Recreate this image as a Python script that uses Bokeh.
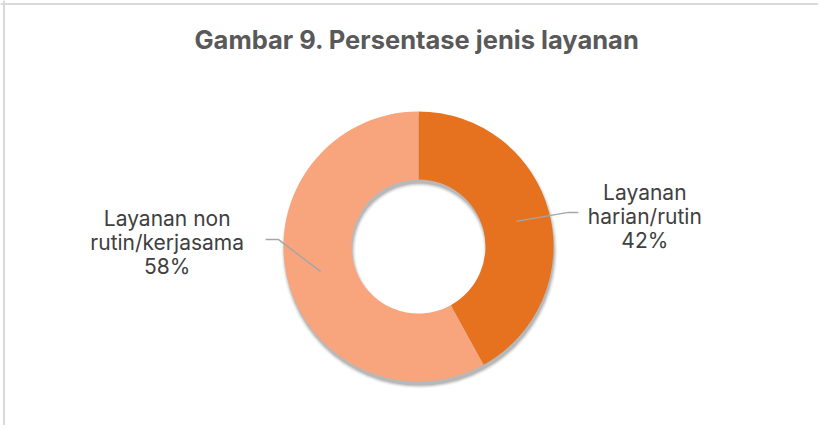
import math
from bokeh.plotting import figure
from bokeh.models import ColumnDataSource, Range1d, Label, Span
from bokeh.core.properties import value
from bokeh.embed import file_html
from bokeh.resources import INLINE

# ---- data ----
categories = ["Layanan harian/rutin", "Layanan non rutin/kerjasama"]
label_texts = ["Layanan\nharian/rutin", "Layanan non\nrutin/kerjasama"]
percentages = [42, 58]
colors = ["#E6721F", "#F8A57E"]
title_text = "Gambar 9. Persentase jenis layanan"

# ---- layout ----
W, H = 818, 425
cx, cy = 418, 179
r_out, r_in = 135, 67

p = figure(width=W, height=H, output_backend="svg", toolbar_location=None,
           x_range=Range1d(0, W), y_range=Range1d(0, H), min_border=0)
p.axis.visible = False
p.xgrid.visible = False
p.ygrid.visible = False
p.outline_line_color = None
p.background_fill_color = "white"
p.border_fill_color = "white"

# chart-area border (left and top edges)
p.add_layout(Span(location=3.5, dimension="height", line_color="#D9D9D9", line_width=2))
p.add_layout(Span(location=H - 3.5, dimension="width", line_color="#D9D9D9", line_width=2))

# title
p.add_layout(Label(x=416.5, y=H - 38.5, x_units="data", y_units="data",
                   text=title_text, text_align="center", text_baseline="middle",
                   text_font="Inter", text_font_size="25.5px", text_font_style="bold",
                   text_color="#595959"))

# angles
total = sum(percentages)
starts, ends, mids = [], [], []
a = math.pi / 2
for v in percentages:
    span = 2 * math.pi * v / total
    starts.append(a)
    ends.append(a - span)
    mids.append(a - span / 2)
    a -= span

# shadow (soft, offset downward)
for k, al in [(3, 0.06), (2, 0.09), (1, 0.14), (0, 0.2)]:
    p.annulus(x=cx + 1, y=cy - 4, inner_radius=r_in - k, outer_radius=r_out + k,
              inner_radius_units="screen", outer_radius_units="screen",
              fill_color="#555555", fill_alpha=al, line_color=None)

src = ColumnDataSource(dict(cat=categories, pct=percentages, start=starts,
                            end=ends, color=colors))
p.annular_wedge(x=cx, y=cy, inner_radius=r_in, outer_radius=r_out,
                inner_radius_units="screen", outer_radius_units="screen",
                start_angle="start", end_angle="end", direction="clock",
                fill_color="color", line_color=None, source=src)

# leader lines and labels
r_mid = (r_in + r_out) / 2
lead_xs, lead_ys = [], []
lab_x, lab_y, lab_t = [], [], []
for ang, txt, pct in zip(mids, label_texts, percentages):
    sx = cx + r_mid * math.cos(ang)
    sy = cy + r_mid * math.sin(ang)
    if math.cos(ang) >= 0:
        ex, ey = sx + 52, sy + 9
        fx = ex + 10
        lx, ly = fx + 66.5, ey - 4
    else:
        ex, ey = sx - 42, sy + 32
        fx = ex - 13
        lx, ly = fx - 98.5, ey - 3
    lead_xs.append([sx, ex, fx])
    lead_ys.append([sy, ey, ey])
    lab_x.append(lx)
    lab_y.append(ly)
    lab_t.append(f"{txt}\n{pct}%")

p.multi_line(xs=lead_xs, ys=lead_ys, line_color="#A6A6A6", line_width=1.5)
p.text(x=lab_x, y=lab_y, text=lab_t, text_align="center", text_baseline="middle",
       text_font=value("Inter"), text_font_size="21px", text_color="#404040",
       text_line_height=0.96)

open("out.html", "w").write(file_html(p, INLINE))
